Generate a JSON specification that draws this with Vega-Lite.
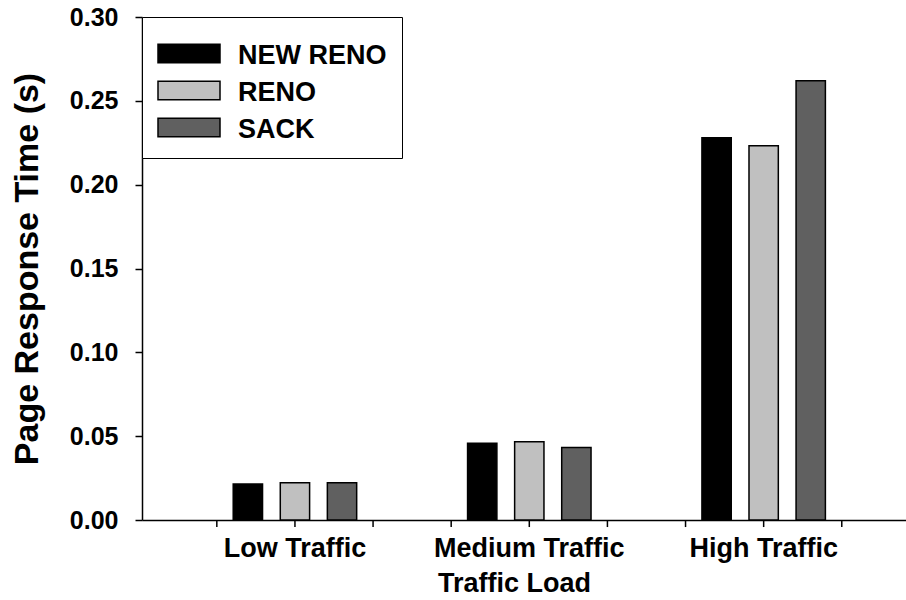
{
  "$schema": "https://vega.github.io/schema/vega-lite/v6.json",
  "width": 764,
  "height": 503,
  "autosize": {"type": "none"},
  "padding": {"left": 142, "top": 17, "right": 0, "bottom": 80},
  "config": {
    "view": {"stroke": null},
    "font": "Liberation Sans",
    "axis": {
      "grid": false,
      "domainColor": "black",
      "domainWidth": 1.5,
      "tickColor": "black",
      "tickWidth": 1.5,
      "labelColor": "black",
      "titleColor": "black",
      "labelFont": "Liberation Sans",
      "titleFont": "Liberation Sans",
      "labelFontWeight": "bold",
      "titleFontWeight": "bold"
    }
  },
  "datasets": {
    "bars": [
      {"load": "Low Traffic", "protocol": "NEW RENO", "time": 0.0214},
      {"load": "Low Traffic", "protocol": "RENO", "time": 0.0222},
      {"load": "Low Traffic", "protocol": "SACK", "time": 0.0222},
      {"load": "Medium Traffic", "protocol": "NEW RENO", "time": 0.0458},
      {"load": "Medium Traffic", "protocol": "RENO", "time": 0.0466},
      {"load": "Medium Traffic", "protocol": "SACK", "time": 0.0432},
      {"load": "High Traffic", "protocol": "NEW RENO", "time": 0.228},
      {"load": "High Traffic", "protocol": "RENO", "time": 0.2232},
      {"load": "High Traffic", "protocol": "SACK", "time": 0.262}
    ],
    "ticks": [
      {"load": "Low Traffic", "pos": "left"},
      {"load": "Low Traffic", "pos": "center"},
      {"load": "Low Traffic", "pos": "right"},
      {"load": "Medium Traffic", "pos": "left"},
      {"load": "Medium Traffic", "pos": "center"},
      {"load": "Medium Traffic", "pos": "right"},
      {"load": "High Traffic", "pos": "left"},
      {"load": "High Traffic", "pos": "center"},
      {"load": "High Traffic", "pos": "right"}
    ]
  },
  "layer": [
    {
      "data": {"name": "bars"},
      "mark": {"type": "bar", "stroke": "black", "strokeWidth": 1.5},
      "encoding": {
        "x": {
          "field": "load",
          "type": "nominal",
          "sort": ["Low Traffic", "Medium Traffic", "High Traffic"],
          "scale": {"paddingInner": 0, "paddingOuter": 0.13, "align": 0.587},
          "axis": {
            "title": "Traffic Load",
            "titleFontSize": 27,
            "titlePadding": 9,
            "titleX": 372,
            "labelAngle": 0,
            "labelFontSize": 27,
            "labelPadding": 15,
            "labelLimit": 300,
            "ticks": false
          }
        },
        "xOffset": {
          "field": "protocol",
          "type": "nominal",
          "scale": {
            "domain": ["gap-left", "NEW RENO", "RENO", "SACK", "gap-right"],
            "paddingInner": 0.377,
            "paddingOuter": 0.178
          }
        },
        "y": {
          "field": "time",
          "type": "quantitative",
          "scale": {"domain": [0, 0.3], "nice": false},
          "axis": {
            "title": "Page Response Time (s)",
            "titleFontSize": 34,
            "titlePadding": 25,
            "values": [0, 0.05, 0.1, 0.15, 0.2, 0.25, 0.3],
            "format": ".2f",
            "labelFontSize": 25,
            "tickSize": 7,
            "labelPadding": 17
          }
        },
        "color": {
          "field": "protocol",
          "type": "nominal",
          "sort": ["NEW RENO", "RENO", "SACK"],
          "scale": {"domain": ["NEW RENO", "RENO", "SACK"], "range": ["#000000", "#c0c0c0", "#606060"]},
          "legend": {
            "title": null,
            "orient": "top-left",
            "offset": 0,
            "padding": 15,
            "strokeColor": "black",
            "fillColor": "white",
            "labelFont": "Liberation Sans",
            "labelFontSize": 27,
            "labelFontWeight": "bold",
            "labelColor": "black",
            "labelLimit": 400,
            "labelOffset": 17,
            "labelBaseline": "alphabetic",
            "symbolType": "M-1,-0.64L1,-0.64L1,-0.04L-1,-0.04Z",
            "symbolSize": 3844,
            "symbolStrokeColor": "black",
            "symbolStrokeWidth": 1.5,
            "symbolOpacity": 1,
            "rowPadding": -1.5
          }
        }
      }
    },
    {
      "data": {"name": "ticks"},
      "mark": {"type": "rule", "color": "black", "strokeWidth": 1.5},
      "encoding": {
        "x": {
          "field": "load",
          "type": "nominal",
          "sort": ["Low Traffic", "Medium Traffic", "High Traffic"],
          "title": "Traffic Load"
        },
        "xOffset": {
          "field": "pos",
          "type": "nominal",
          "sort": ["left", "center", "right"],
          "scale": {"paddingInner": 0, "paddingOuter": 0}
        },
        "y": {"datum": 0, "type": "quantitative", "title": "Page Response Time (s)"},
        "y2": {"datum": -0.0042}
      }
    }
  ],
  "resolve": {"scale": {"xOffset": "independent"}}
}
